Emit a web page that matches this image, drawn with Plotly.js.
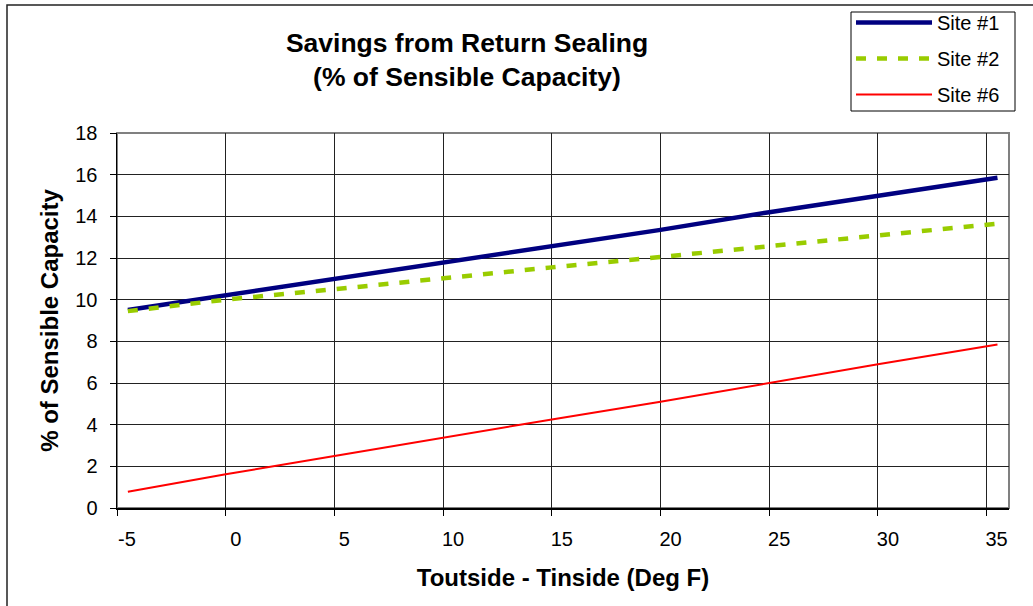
<!DOCTYPE html>
<html>
<head>
<meta charset="utf-8">
<script src="https://cdn.plot.ly/plotly-3.0.1.min.js"></script>
<style>html,body{margin:0;padding:0;background:#fff;}#chart{width:1033px;height:606px;}</style>
</head>
<body>
<div id="chart"></div>
<script>
// Data
var tempDiff = [-4.5, 0, 5, 10, 15, 20, 25, 30, 35.5];
var site1 = [9.5, 10.2, 11.0, 11.8, 12.55, 13.35, 14.2, 15.0, 15.85];
var site2 = [9.45, 10.0, 10.5, 11.05, 11.55, 12.05, 12.55, 13.1, 13.65];
var site6 = [0.78, 1.62, 2.5, 3.38, 4.25, 5.1, 6.0, 6.9, 7.85];
var seriesNames = ['Site #1', 'Site #2', 'Site #6'];
var xTicks = [-5, 0, 5, 10, 15, 20, 25, 30, 35];
var yTicks = [0, 2, 4, 6, 8, 10, 12, 14, 16, 18];

var FONT = 'Liberation Sans, Arial, sans-serif';

var traces = [
  {x: tempDiff, y: site1, name: seriesNames[0], legendgroup: 'a', mode: 'lines',
   line: {color: '#000080', width: 4.5}},
  {x: tempDiff, y: site2, name: seriesNames[1], legendgroup: 'b', mode: 'lines',
   line: {color: '#99CC00', width: 4.5, dash: '10px,11px'}},
  {x: tempDiff, y: site6, name: seriesNames[2], legendgroup: 'c', mode: 'lines',
   line: {color: '#FF0000', width: 2}}
];

var L = 117, R = 1009, T = 133, B = 508, W = 1033, H = 606;
function px(xp) { return (xp - L) / (R - L); }
function py(yp) { return (B - yp) / (B - T); }

var layout = {
  width: W, height: H,
  margin: {l: L, r: W - R, t: T, b: H - B, pad: 0, autoexpand: false},
  paper_bgcolor: '#ffffff', plot_bgcolor: '#ffffff',
  font: {family: FONT, color: '#000000', size: 20},
  title: {
    text: '<b>Savings from Return Sealing<br>(% of Sensible Capacity)</b>',
    font: {family: FONT, size: 26.5, color: '#000000'},
    xref: 'container', yref: 'container',
    x: 467 / W, xanchor: 'center',
    y: 1 - 52 / H, yanchor: 'top'
  },
  xaxis: {
    range: [-5, 36.03],
    tickmode: 'array', tickvals: xTicks, ticktext: xTicks.map(String),
    ticks: 'outside', ticklen: 6, tickcolor: '#000', tickwidth: 1,
    ticklabelshift: 10, ticklabelstandoff: 6,
    showgrid: true, gridcolor: '#222222', gridwidth: 1,
    zeroline: false,
    showline: true, linecolor: '#000000', linewidth: 1.5,
    tickfont: {family: FONT, size: 20},
    title: {text: '<b>Toutside - Tinside (Deg F)</b>', font: {family: FONT, size: 24}, standoff: 20},
    automargin: false, fixedrange: true
  },
  yaxis: {
    range: [0, 18],
    tickmode: 'array', tickvals: yTicks, ticktext: yTicks.map(String),
    ticks: 'outside', ticklen: 6, tickcolor: '#000', tickwidth: 1,
    ticklabelstandoff: 8,
    showgrid: true, gridcolor: '#222222', gridwidth: 1,
    zeroline: false,
    showline: true, linecolor: '#000000', linewidth: 1.5,
    tickfont: {family: FONT, size: 20},
    title: {text: '<b>% of Sensible Capacity</b>', font: {family: FONT, size: 24}, standoff: 10},
    automargin: false, fixedrange: true
  },
  legend: {
    x: px(851), y: py(3), xanchor: 'left', yanchor: 'top',
    xref: 'paper', yref: 'paper',
    bgcolor: 'rgba(0,0,0,0)', borderwidth: 0,
    font: {family: FONT, size: 20, color: '#000'},
    itemwidth: 76, tracegroupgap: 7, traceorder: 'grouped'
  },
  shapes: [
    // plot-area border (grey, Excel style)
    {type: 'rect', xref: 'paper', yref: 'paper', x0: 0, x1: 1, y0: 0, y1: 1,
     line: {color: '#808080', width: 2}, layer: 'below'},
    // outer chart frame
    {type: 'rect', xref: 'paper', yref: 'paper', x0: px(7), x1: px(1045), y0: py(620), y1: py(5),
     line: {color: '#222222', width: 1.5}, layer: 'below'},
    // legend box
    {type: 'rect', xref: 'paper', yref: 'paper', x0: px(851), x1: px(1015), y0: py(111), y1: py(12),
     line: {color: '#000000', width: 1}, fillcolor: '#ffffff', layer: 'above'}
  ],
  showlegend: true
};

Plotly.newPlot('chart', traces, layout, {displayModeBar: false, staticPlot: true});
</script>
</body>
</html>
